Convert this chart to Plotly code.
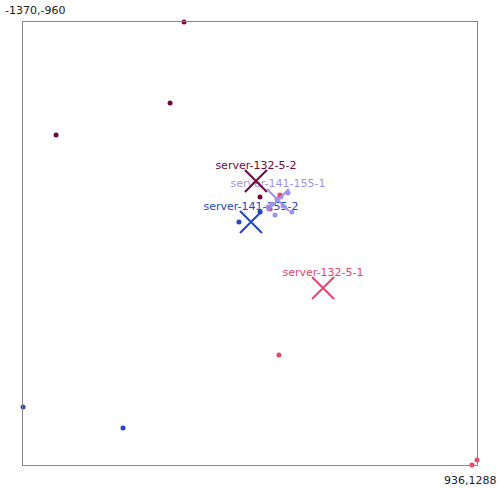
import plotly.graph_objects as go

# Cluster names and colours
names = ["server-132-5-2", "server-141-155-1", "server-141-155-2", "server-132-5-1"]
colors = ["#6e0a3b", "#9d93ea", "#2444c6", "#e8456f"]

# Member points per cluster (x, y)
pts_x = [
    [-552, -623, -1202, -166],
    [-24, -80, -60, -126, -90, -4, -49, -105],
    [-1370, -862, -273, -166],
    [-70, 910, 936, -65, -116],
]
pts_y = [
    [-960, -549, -387, -72],
    [-92, -62, -72, -21, 19, 4, -26, -36],
    [994, 1100, 55, 4],
    [730, 1288, 1263, -82, -11],
]

# Centroids
cent_x = [-187, -75, -212, 154]
cent_y = [-153, -57, 55, 390]

x_range = [-1370, 936]
y_range = [-960, 1288]

fig = go.Figure()

# labels (drawn first, underneath)
for i in range(len(names)):
    fig.add_trace(go.Scatter(
        x=[cent_x[i]], y=[cent_y[i]], mode="markers+text", text=[names[i]],
        textposition="top center",
        marker=dict(size=14, opacity=0),
        textfont=dict(color=colors[i], size=11, family="DejaVu Sans"),
        hoverinfo="skip", showlegend=False))

# points
for i in range(len(names)):
    fig.add_trace(go.Scatter(
        x=pts_x[i], y=pts_y[i], mode="markers",
        marker=dict(color=colors[i], size=5, line=dict(width=0)),
        showlegend=False, cliponaxis=False))

# centroid crosses
for i in range(len(names)):
    fig.add_trace(go.Scatter(
        x=[cent_x[i]], y=[cent_y[i]], mode="markers",
        marker=dict(symbol="x-thin-open", size=22, color=colors[i],
                    line=dict(width=2, color=colors[i])),
        showlegend=False, cliponaxis=False))

fig.update_xaxes(range=x_range, showgrid=False, zeroline=False, showticklabels=False,
                 ticks="", showline=True, linecolor="#888888", linewidth=1, mirror=True)
fig.update_yaxes(range=[y_range[1], y_range[0]], showgrid=False, zeroline=False,
                 showticklabels=False, ticks="", showline=True, linecolor="#888888",
                 linewidth=1, mirror=True)

fig.add_annotation(x=0, y=1, xref="paper", yref="paper", xanchor="left", yanchor="bottom",
                   xshift=-20, yshift=3, showarrow=False,
                   text=f"{x_range[0]},{y_range[0]}",
                   font=dict(size=11, color="#222222", family="DejaVu Sans"))
fig.add_annotation(x=1, y=0, xref="paper", yref="paper", xanchor="right", yanchor="top",
                   xshift=22, yshift=-7, showarrow=False,
                   text=f"{x_range[1]},{y_range[1]}",
                   font=dict(size=11, color="#222222", family="DejaVu Sans"))

fig.update_layout(width=500, height=488, margin=dict(l=23, r=23, t=22, b=23),
                  plot_bgcolor="white", paper_bgcolor="white",
                  font=dict(family="DejaVu Sans"))

fig.write_html("out.html")
